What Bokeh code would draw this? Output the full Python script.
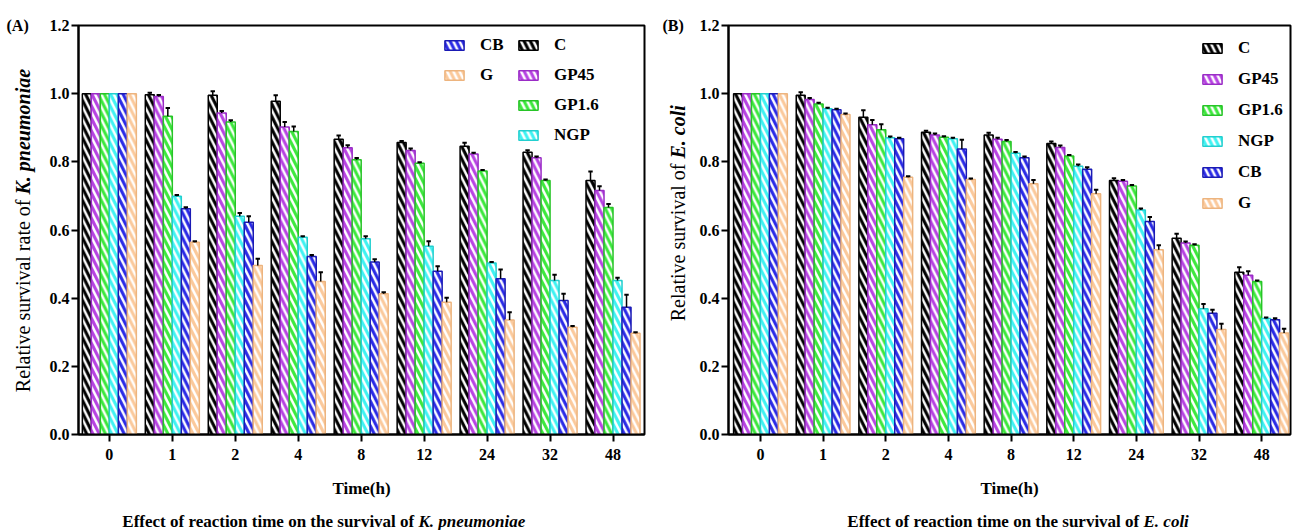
import math
from bokeh.plotting import figure
from bokeh.layouts import row, column
from bokeh.models import (FixedTicker, Legend, LegendItem, Range1d,
                          PrintfTickFormatter)
from bokeh.core.properties import value
from bokeh.embed import file_html
from bokeh.resources import INLINE

# ---------------- data ----------------
times = ["0", "1", "2", "4", "8", "12", "24", "32", "48"]
groups = ["C", "GP45", "GP1.6", "NGP", "CB", "G"]

# K. pneumoniae (panel A)
kp_C    = [1.0, 0.997, 0.995, 0.978, 0.866, 0.857, 0.846, 0.828, 0.745]
kp_GP45 = [1.0, 0.992, 0.943, 0.902, 0.841, 0.833, 0.823, 0.812, 0.716]
kp_GP16 = [1.0, 0.934, 0.917, 0.889, 0.806, 0.796, 0.773, 0.745, 0.666]
kp_NGP  = [1.0, 0.699, 0.640, 0.579, 0.574, 0.552, 0.503, 0.452, 0.452]
kp_CB   = [1.0, 0.662, 0.623, 0.522, 0.506, 0.479, 0.457, 0.393, 0.373]
kp_G    = [1.0, 0.564, 0.496, 0.449, 0.413, 0.388, 0.336, 0.315, 0.297]

kp_C_err    = [0, 0.006, 0.012, 0.017, 0.011, 0.004, 0.010, 0.006, 0.027]
kp_GP45_err = [0, 0.004, 0.006, 0.015, 0.008, 0.006, 0.004, 0.004, 0.012]
kp_GP16_err = [0, 0.024, 0.005, 0.015, 0.005, 0.003, 0.003, 0.003, 0.010]
kp_NGP_err  = [0, 0.004, 0.010, 0.003, 0.008, 0.015, 0.003, 0.017, 0.008]
kp_CB_err   = [0, 0.005, 0.017, 0.005, 0.008, 0.015, 0.027, 0.020, 0.037]
kp_G_err    = [0, 0.003, 0.020, 0.027, 0.004, 0.013, 0.023, 0.003, 0.003]

# E. coli (panel B)
ec_C    = [1.0, 0.995, 0.931, 0.887, 0.879, 0.854, 0.745, 0.576, 0.476]
ec_GP45 = [1.0, 0.983, 0.909, 0.879, 0.866, 0.842, 0.743, 0.562, 0.467]
ec_GP16 = [1.0, 0.970, 0.894, 0.872, 0.860, 0.817, 0.729, 0.555, 0.449]
ec_NGP  = [1.0, 0.956, 0.871, 0.868, 0.825, 0.787, 0.659, 0.369, 0.340]
ec_CB   = [1.0, 0.953, 0.868, 0.838, 0.812, 0.778, 0.625, 0.356, 0.337]
ec_G    = [1.0, 0.939, 0.755, 0.748, 0.736, 0.706, 0.542, 0.308, 0.298]

ec_C_err    = [0, 0.009, 0.020, 0.004, 0.006, 0.006, 0.007, 0.013, 0.015]
ec_GP45_err = [0, 0.004, 0.014, 0.004, 0.005, 0.006, 0.004, 0.004, 0.012]
ec_GP16_err = [0, 0.003, 0.016, 0.003, 0.004, 0.003, 0.003, 0.003, 0.003]
ec_NGP_err  = [0, 0.003, 0.003, 0.003, 0.004, 0.005, 0.004, 0.014, 0.003]
ec_CB_err   = [0, 0.003, 0.003, 0.027, 0.004, 0.006, 0.013, 0.010, 0.004]
ec_G_err    = [0, 0.003, 0.003, 0.003, 0.011, 0.012, 0.013, 0.017, 0.012]

y_ticks = [0, 0.2, 0.4, 0.6, 0.8, 1.0, 1.2]

# ---------------- styles ----------------
fills = ["#000000", "#B743E2", "#3DE83D", "#3FF2F2", "#2A2AE6", "#FBC99B"]
edges = ["#000000", "#9A2CC6", "#27C427", "#22CFCF", "#1A1AB4", "#EDB47E"]
FONT = "Liberation Serif"
BAR_W = 0.143
TOP_H = 508      # height of the chart row
STRIP_H = 22     # height of the caption strip


def no_frame_align(fig):
    if "frame_align" in fig.properties():
        fig.frame_align = False


def make_panel(vals, errs, width, border_left, border_right, x_start, x_end,
               legend_cols):
    p = figure(width=width, height=TOP_H, output_backend="svg", title=None,
               toolbar_location=None, x_range=Range1d(x_start, x_end),
               y_range=Range1d(0, 1.2),
               min_border_left=border_left, min_border_right=border_right,
               min_border_top=25, min_border_bottom=74)
    no_frame_align(p)
    p.background_fill_color = "white"
    p.border_fill_color = "white"
    p.outline_line_color = "black"
    p.outline_line_width = 2
    p.xgrid.visible = False
    p.ygrid.visible = False

    renderers = []
    for j, g in enumerate(groups):
        xs = [i + (j - 2.5) * BAR_W for i in range(len(times))]
        r = p.vbar(x=xs, top=vals[j], bottom=0, width=BAR_W,
                   fill_color=fills[j], line_color=edges[j], line_width=1.5,
                   hatch_pattern="\\", hatch_color="white",
                   hatch_scale=12.5, hatch_weight=2.5)
        renderers.append(r)
        ex = [x for x, e in zip(xs, errs[j]) if e > 0]
        ey0 = [v for v, e in zip(vals[j], errs[j]) if e > 0]
        ey1 = [v + e for v, e in zip(vals[j], errs[j]) if e > 0]
        p.segment(x0=ex, y0=ey0, x1=ex, y1=ey1, line_color="black",
                  line_width=1.5)
        p.segment(x0=[x - 0.035 for x in ex], y0=ey1,
                  x1=[x + 0.035 for x in ex], y1=ey1,
                  line_color="black", line_width=2)

    # axes
    p.xaxis.ticker = FixedTicker(ticks=list(range(len(times))))
    p.xaxis.major_label_overrides = {i: t for i, t in enumerate(times)}
    p.yaxis.ticker = FixedTicker(ticks=y_ticks)
    p.yaxis.formatter = PrintfTickFormatter(format="%.1f")
    for ax in (p.xaxis, p.yaxis):
        ax.axis_line_width = 2
        ax.axis_line_color = "black"
        ax.major_tick_line_width = 2
        ax.major_tick_in = 0
        ax.major_tick_out = 7
        ax.minor_tick_line_color = None
        ax.major_label_text_font = FONT
        ax.major_label_text_font_style = "bold"
        ax.major_label_text_font_size = "16px"
        ax.major_label_text_color = "black"
    p.xaxis.major_label_standoff = 7
    p.yaxis.major_label_standoff = 2
    p.xaxis.axis_label = "Time(h)"
    p.xaxis.axis_label_text_font = FONT
    p.xaxis.axis_label_text_font_style = "bold"
    p.xaxis.axis_label_text_font_size = "17px"
    p.xaxis.axis_label_standoff = 16
    p.xaxis.axis_label_text_color = "black"

    # legends
    for names, loc, spacing in legend_cols:
        items = [LegendItem(label=n, renderers=[renderers[groups.index(n)]])
                 for n in names]
        lg = Legend(items=items, location=loc, orientation="vertical",
                    glyph_width=24, glyph_height=12, label_standoff=14,
                    spacing=spacing, padding=0, margin=0, label_height=20,
                    border_line_alpha=0, background_fill_alpha=0,
                    label_text_font=FONT, label_text_font_style="bold",
                    label_text_font_size="17px", label_text_color="black")
        p.add_layout(lg)
    return p


def text_strip(width, height):
    s = figure(width=width, height=height, output_backend="svg", title=None,
               toolbar_location=None, x_range=Range1d(0, width),
               y_range=Range1d(0, height), x_axis_location=None,
               y_axis_location=None, min_border=0)
    no_frame_align(s)
    s.min_border_left = s.min_border_right = 0
    s.min_border_top = s.min_border_bottom = 0
    s.outline_line_color = None
    s.background_fill_color = "white"
    s.border_fill_color = "white"
    s.grid.visible = False
    return s


def put_text(s, x, y, txt, style, size, align, angle=0.0):
    s.text(x=[x], y=[y], text=[txt], angle=angle, text_font=value(FONT),
           text_font_style=style, text_font_size=size, text_align=align,
           text_baseline="middle", text_color="black")


# ---- main panels ----
pA = make_panel(
    [kp_C, kp_GP45, kp_GP16, kp_NGP, kp_CB, kp_G],
    [kp_C_err, kp_GP45_err, kp_GP16_err, kp_NGP_err, kp_CB_err, kp_G_err],
    width=606, border_left=34, border_right=6, x_start=-0.49, x_end=8.5,
    legend_cols=[(["CB", "G"], (364, 349), 10),
                 (["C", "GP45", "GP1.6", "NGP"], (438, 289), 10)])

pB = make_panel(
    [ec_C, ec_GP45, ec_GP16, ec_NGP, ec_CB, ec_G],
    [ec_C_err, ec_GP45_err, ec_GP16_err, ec_NGP_err, ec_CB_err, ec_G_err],
    width=598, border_left=34, border_right=2, x_start=-0.51, x_end=8.46,
    legend_cols=[(["C", "GP45", "GP1.6", "NGP", "CB", "G"], (472, 221), 11)])

# ---- left strips: panel tag and y-axis title ----
LA = text_strip(44, TOP_H)
put_text(LA, 6, TOP_H - 25, "(A)", "bold", "16px", "left")
put_text(LA, 22, TOP_H - 194, "Relative survival rate of ", "normal", "20px",
         "right", math.pi / 2)
put_text(LA, 22, TOP_H - 194, "K. pneumoniae", "bold italic", "20px",
         "left", math.pi / 2)

LB = text_strip(44, TOP_H)
put_text(LB, 12, TOP_H - 25, "(B)", "bold", "16px", "left")
put_text(LB, 27, TOP_H - 158, "Relative survival of ", "normal", "20px",
         "right", math.pi / 2)
put_text(LB, 27, TOP_H - 158, "E. coli", "bold italic", "20px",
         "left", math.pi / 2)

# ---- caption strip ----
CAP = text_strip(1292, STRIP_H)
put_text(CAP, 418, STRIP_H / 2 - 2, "Effect of reaction time on the survival of ",
         "bold", "17px", "right")
put_text(CAP, 418, STRIP_H / 2 - 2, "K. pneumoniae", "bold italic", "17px", "left")
put_text(CAP, 1143, STRIP_H / 2 - 2, "Effect of reaction time on the survival of ",
         "bold", "17px", "right")
put_text(CAP, 1143, STRIP_H / 2 - 2, "E. coli", "bold italic", "17px", "left")

layout = column(row(LA, pA, LB, pB), CAP)
open("out.html", "w").write(file_html(layout, INLINE))
